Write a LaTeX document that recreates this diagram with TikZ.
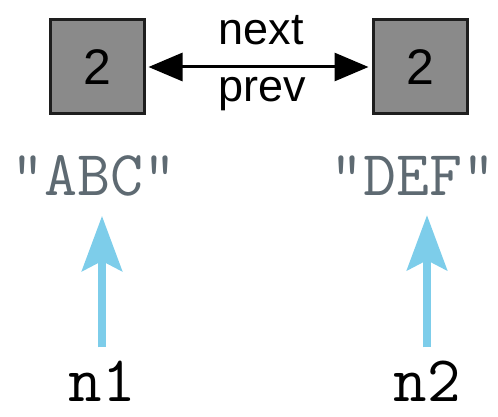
\documentclass[tikz,border=0pt]{standalone}
\usepackage{fontspec}
\setmainfont{Liberation Sans}
\usetikzlibrary{arrows.meta}
\definecolor{boxgray}{HTML}{8A8A8A}
\definecolor{boxline}{HTML}{1E1E1E}
\definecolor{strcol}{HTML}{5E6A72}
\definecolor{skyarrow}{HTML}{7DCDEA}
\begin{document}
\begin{tikzpicture}[x=1pt,y=-1pt,
  cell/.style={draw=boxline,line width=3pt,fill=boxgray,minimum size=94pt,inner sep=0pt,
    font=\fontsize{50}{54}\selectfont},
  lbl/.style={inner sep=0pt,anchor=base,font=\fontsize{45}{50}\selectfont},
  strnode/.style={inner sep=0pt,anchor=base,text=strcol,font=\ttfamily\fontsize{64}{68}\selectfont},
  varnode/.style={inner sep=0pt,anchor=base,font=\ttfamily\fontsize{65}{69}\selectfont},
  link/.style={line width=3pt,{Triangle[length=34pt,width=28pt]}-{Triangle[length=34pt,width=28pt]}},
  ptr/.style={skyarrow,line width=8pt,-{Stealth[length=55pt,width=40pt,inset=10pt]}}]
\useasboundingbox (0,0) rectangle (498,417);
\node[cell] (b1) at (97,67) {2};
\node[cell] (b2) at (420,67) {2};
\node[lbl] (nx) at (261,45) {next};
\node[lbl] (pv) at (262,102) {prev};
\draw[link,shorten <=3pt,shorten >=3pt] (b1.east) -- (b2.west);
\node[strnode] (abc) at (94,195) {"ABC"};
\node[strnode] (def) at (413,195) {"DEF"};
\node[varnode] (n1) at (102,401) {n1};
\node[varnode] (n2) at (427,401) {n2};
\draw[ptr,shorten <=13pt,shorten >=20pt] (n1.north) -- (n1.north |- abc.south);
\draw[ptr,shorten <=13pt,shorten >=20pt] (n2.north) -- (n2.north |- def.south);
\end{tikzpicture}
\end{document}
